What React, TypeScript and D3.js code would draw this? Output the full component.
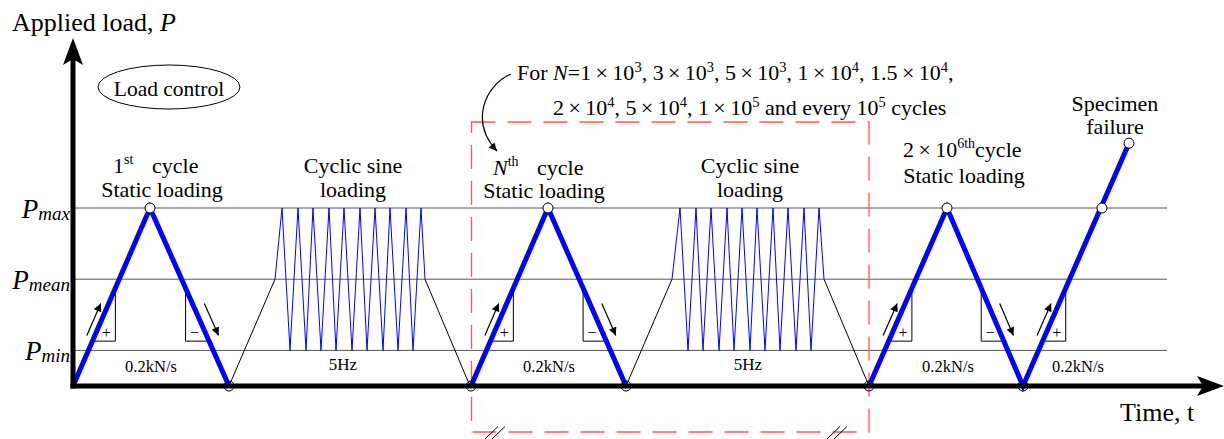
import React from "react";
import * as d3 from "d3";

const W = 1224;
const H = 439;
const FONT = "'Liberation Serif', 'Times New Roman', Times, serif";
const BLUE = "#0000ff";
const RED = "#ff5a5a";
const GRID = "#555";
const TIMES = "\u2009×\u2009";

type Pt = [number, number];

// Load levels (P_max, P_mean, P_min)
const levelNames = ["max", "mean", "min"];
const levelValues = [5, 3, 1];

// Static loading paths: [time, load]
const staticCycle1: Pt[] = [[0, 0], [77, 5], [156, 0]];
const staticCycleN: Pt[] = [[398, 0], [475, 5], [553, 0]];
const staticFinal: Pt[] = [[796, 0], [874, 5], [950, 0], [1056, 6.82]];

// Transition ramps into / out of cyclic loading
const rampsIn: Pt[][] = [[[156, 0], [202, 3]], [[553, 0], [599, 3]]];
const rampsOut: Pt[][] = [[[352, 3], [397, 0]], [[751, 3], [796, 0]]];

// Cyclic sine loading vertices
const sineBlock1: Pt[] = [[202, 3], [209, 5], [217, 1], [225, 5], [233, 1], [240, 5], [248, 1], [256, 5], [263, 1], [271, 5], [279, 1], [287, 5], [294, 1], [302, 5], [310, 1], [317, 5], [325, 1], [333, 5], [340, 1], [348, 5], [352, 3]];
const sineBlock2: Pt[] = [[599, 3], [607, 5], [615, 1], [623, 5], [630, 1], [638, 5], [646, 1], [654, 5], [661, 1], [669, 5], [677, 1], [684, 5], [692, 1], [700, 5], [707, 1], [715, 5], [723, 1], [731, 5], [738, 1], [746, 5], [751, 3]];

const markedPoints: Pt[] = [[77, 5], [156, 0], [398, 0], [475, 5], [553, 0], [796, 0], [874, 5], [950, 0], [1029, 5], [1056, 6.82]];

const rateLabels = [{ t: 78, text: "0.2kN/s" }, { t: 476, text: "0.2kN/s" }, { t: 875, text: "0.2kN/s" }, { t: 1005, text: "0.2kN/s" }];
const freqLabels = [{ t: 270, text: "5Hz" }, { t: 675, text: "5Hz" }];

const bracketTop = 2.75;
const bracketBottom = 1.26;
const arrowLow = 1.42;
const arrowHigh = 2.32;

type Part = { text: string; sup?: boolean; italic?: boolean };
const noteLine1: Part[] = [
  { text: "For " }, { text: "N", italic: true }, { text: "=1" + TIMES + "10" }, { text: "3", sup: true },
  { text: ", 3" + TIMES + "10" }, { text: "3", sup: true }, { text: ", 5" + TIMES + "10" }, { text: "3", sup: true },
  { text: ", 1" + TIMES + "10" }, { text: "4", sup: true }, { text: ", 1.5" + TIMES + "10" }, { text: "4", sup: true }, { text: "," },
];
const noteLine2: Part[] = [
  { text: "2" + TIMES + "10" }, { text: "4", sup: true }, { text: ", 5" + TIMES + "10" }, { text: "4", sup: true },
  { text: ", 1" + TIMES + "10" }, { text: "5", sup: true }, { text: " and every 10" }, { text: "5", sup: true }, { text: " cycles" },
];

function rich(parts: Part[], supSize: number, shift: number) {
  let prevSup = false;
  return parts.map((p, i) => {
    let dy = 0;
    if (p.sup && !prevSup) dy = -shift;
    if (!p.sup && prevSup) dy = shift;
    prevSup = !!p.sup;
    return (
      <tspan key={i} dy={dy || undefined} fontSize={p.sup ? supSize : undefined} fontStyle={p.italic ? "italic" : undefined}>
        {p.text}
      </tspan>
    );
  });
}

export default function App() {
  const x = d3.scaleLinear().domain([0, 1150]).range([73, 1223]);
  const y = d3.scaleLinear().domain([0, 5]).range([386, 208]);
  const line = d3.line<Pt>().x((d) => x(d[0])).y((d) => y(d[1]));

  const staticPaths = [staticCycle1, staticCycleN, staticFinal];
  const segments: Pt[][] = [];
  staticPaths.forEach((p) => {
    for (let i = 0; i < p.length - 1; i++) segments.push([p[i], p[i + 1]]);
  });
  const tAt = (s: Pt[], P: number) => s[0][0] + ((P - s[0][1]) / (s[1][1] - s[0][1])) * (s[1][0] - s[0][0]);

  const x0 = x(0);
  const y0 = y(0);
  const gridEnd = x(1094);

  return (
    <svg width={W} height={H} style={{ position: "absolute", left: 0, top: 0, background: "#fff" }} fontFamily={FONT}>
      <defs>
        <marker id="ah" viewBox="0 0 10 10" refX="10" refY="5" markerWidth="10" markerHeight="8" markerUnits="userSpaceOnUse" orient="auto">
          <path d="M0,0 L10,5 L0,10 z" fill="#000" />
        </marker>
      </defs>
      <rect width={W} height={H} fill="#fff" />

      {/* reference lines */}
      {levelValues.map((v, i) => (
        <line key={i} x1={x0} x2={gridEnd} y1={y(v)} y2={y(v)} stroke={GRID} strokeWidth={1} />
      ))}

      {/* red dashed box */}
      <rect x={471.5} y={122} width={397.5} height={310} fill="none" stroke={RED} strokeWidth={1.3} strokeDasharray="24 12" />
      {/* break marks */}
      {[493, 835].map((bx, i) => (
        <g key={i} stroke="#000" strokeWidth={1}>
          <line x1={bx - 8} y1={439} x2={bx + 5} y2={426.5} />
          <line x1={bx - 1} y1={439} x2={bx + 12} y2={426.5} />
        </g>
      ))}

      {/* ramps */}
      {[...rampsIn, ...rampsOut].map((r, i) => (
        <path key={i} d={line(r) || ""} fill="none" stroke="#000" strokeWidth={1} />
      ))}
      {/* cyclic sine loading */}
      {[sineBlock1, sineBlock2].map((b, i) => (
        <path key={i} d={line(b) || ""} fill="none" stroke={BLUE} strokeWidth={1} />
      ))}

      {/* slope brackets & arrows */}
      {segments.map((s, i) => {
        const rising = s[1][1] > s[0][1];
        const vx = x(tAt(s, bracketTop));
        const hx = x(tAt(s, bracketBottom));
        const off = rising ? -8 : 12;
        const a0 = rising ? arrowLow : arrowHigh;
        const a1 = rising ? arrowHigh : arrowLow;
        return (
          <g key={i}>
            <path d={`M${vx},${y(bracketTop)} L${vx},${y(bracketBottom)} L${hx},${y(bracketBottom)}`} fill="none" stroke="#000" strokeWidth={1} />
            <text x={vx + (rising ? -9 : 9)} y={y(bracketBottom) - 3} fontSize={16} textAnchor="middle">
              {rising ? "+" : "−"}
            </text>
            <line x1={x(tAt(s, a0)) + off} y1={y(a0)} x2={x(tAt(s, a1)) + off} y2={y(a1)} stroke="#000" strokeWidth={1.2} markerEnd="url(#ah)" />
          </g>
        );
      })}

      {/* static loading */}
      {staticPaths.map((p, i) => (
        <path key={i} d={line(p) || ""} fill="none" stroke={BLUE} strokeWidth={5} strokeLinejoin="miter" />
      ))}

      {/* axes */}
      <line x1={x0} x2={x0} y1={y0 + 2.5} y2={58} stroke="#000" strokeWidth={5} />
      <path d={`M${x0},38 L${x0 + 10},65 L${x0},59 L${x0 - 10},65 Z`} fill="#000" />
      <line x1={x0 - 2.5} x2={1205} y1={y0} y2={y0} stroke="#000" strokeWidth={5} />
      <path d={`M1224,${y0} L1197,${y0 - 10} L1203,${y0} L1197,${y0 + 10} Z`} fill="#000" />

      {/* marked points */}
      {markedPoints.map((p, i) => (
        <circle key={i} cx={x(p[0])} cy={y(p[1])} r={5} fill={p[1] > 0 ? "#fff" : "none"} stroke="#000" strokeWidth={1} />
      ))}

      {/* level labels */}
      {levelNames.map((n, i) => (
        <text key={n} x={70} y={y(levelValues[i]) + 10} textAnchor="end" fontStyle="italic">
          <tspan fontSize={27}>P</tspan>
          <tspan fontSize={19} dy={2}>{n}</tspan>
        </text>
      ))}

      {/* rate & frequency labels */}
      {rateLabels.map((r, i) => (
        <text key={i} x={x(r.t)} y={372} fontSize={16.5} textAnchor="middle">{r.text}</text>
      ))}
      {freqLabels.map((r, i) => (
        <text key={i} x={x(r.t)} y={370} fontSize={17} textAnchor="middle">{r.text}</text>
      ))}

      {/* axis titles */}
      <text x={12} y={31} fontSize={26}>
        Applied load, <tspan fontStyle="italic">P</tspan>
      </text>
      <text x={1120} y={421} fontSize={26}>Time, t</text>

      {/* load control */}
      <ellipse cx={169} cy={87} rx={71} ry={22} fill="none" stroke="#000" strokeWidth={1} />
      <text x={169} y={96} fontSize={21.5} textAnchor="middle">Load control</text>

      {/* stage labels */}
      <g fontSize={22}>
        <text x={113} y={173}>
          1<tspan fontSize={14} dy={-9}>st</tspan>
          <tspan x={152} dy={9}>cycle</tspan>
        </text>
        <text x={162} y={197} textAnchor="middle">Static loading</text>

        <text x={353} y={173} textAnchor="middle">Cyclic sine</text>
        <text x={353} y={197} textAnchor="middle">loading</text>

        <text x={493} y={175}>
          <tspan fontStyle="italic">N</tspan>
          <tspan fontSize={14} dy={-9}>th</tspan>
          <tspan x={537} dy={9}>cycle</tspan>
        </text>
        <text x={544} y={198} textAnchor="middle">Static loading</text>

        <text x={750} y={173} textAnchor="middle">Cyclic sine</text>
        <text x={750} y={197} textAnchor="middle">loading</text>

        <text x={903} y={157}>
          {"2" + TIMES + "10"}<tspan fontSize={14} dy={-9}>6th</tspan>
          <tspan dy={9}>cycle</tspan>
        </text>
        <text x={964} y={183} textAnchor="middle">Static loading</text>

        <text x={1115} y={111} textAnchor="middle">Specimen</text>
        <text x={1115} y={134} textAnchor="middle">failure</text>
      </g>

      {/* note */}
      <g fontSize={22}>
        <text x={517} y={80}>{rich(noteLine1, 14.5, 8)}</text>
        <text x={553} y={115}>{rich(noteLine2, 14.5, 8)}</text>
      </g>
      <path d="M511,74 C484,86 470,122 497,151" fill="none" stroke="#000" strokeWidth={1.2} markerEnd="url(#ah)" />
    </svg>
  );
}
